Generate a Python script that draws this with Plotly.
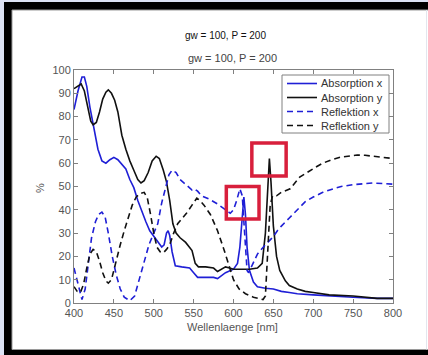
import plotly.graph_objects as go

# ---------------- data ----------------
abs_x_wl = [400, 405, 410, 413, 416, 420, 425, 430, 435, 440, 445, 450, 455, 460, 465, 470, 475, 480,
            485, 490, 495, 500, 505, 510, 513, 516, 518, 520, 523, 527, 535, 545, 550, 555, 565, 575,
            580, 590, 600, 605, 608, 611, 613, 615, 617, 620, 625, 630, 640, 650, 660, 670, 680, 700,
            720, 750, 780, 800]
abs_x_val = [83, 91, 97, 97, 93, 84, 75, 66, 61, 60, 61.5, 62.5, 61.5, 59.5, 57.5, 53, 49.5, 44,
             39, 35, 31, 28.5, 26, 24, 25, 30, 31, 29, 22, 16, 15.5, 15, 13, 11, 11, 11,
             10.5, 13, 14.5, 17, 24, 38, 45.5, 38, 24, 14, 9, 7, 6.3, 6, 5, 4.5, 4, 3.5,
             3, 2.5, 2, 2]

abs_y_wl = [400, 405, 409, 413, 417, 421, 424, 428, 432, 436, 440, 443, 447, 451, 455, 460, 465, 470,
            475, 480, 484, 488, 493, 498, 503, 507, 512, 516, 520, 524, 528, 533, 540, 548, 552, 556,
            565, 575, 580, 585, 590, 595, 600, 610, 620, 630, 636, 640, 643, 645, 647, 650, 654, 658,
            665, 670, 680, 690, 700, 720, 750, 780, 800]
abs_y_val = [92, 93, 94, 91, 84, 78, 76.5, 77.5, 82, 87.5, 90.5, 91.5, 90, 87, 82, 72, 66, 61,
             57, 53, 51.5, 52.5, 56, 61, 63, 62, 57, 52, 44, 34, 30, 28, 26, 22.5, 17, 15.5,
             15.5, 15, 13.5, 14.5, 15.5, 15, 14.5, 14.5, 14.5, 15, 17, 30, 50, 62, 52, 33, 20, 14,
             9.5, 7.5, 6, 5, 4.5, 3.5, 3, 2, 2]

ref_x_wl = [400, 403, 406, 410, 414, 418, 422, 427, 431, 435, 439, 443, 448, 453, 458, 463, 470, 476,
            482, 488, 494, 500, 505, 510, 515, 519, 523, 528, 533, 538, 543, 548, 551, 555, 560, 570,
            580, 590, 596, 600, 604, 608, 611, 613, 615, 617, 619, 622, 630, 640, 650, 655, 660, 670,
            680, 690, 700, 712, 725, 735, 750, 760, 775, 790, 800]
ref_x_val = [15, 11, 6, 1.5, 6, 18, 28, 35, 38, 39, 37, 30, 20, 12, 6, 2.5, 1, 3,
             10, 18, 25, 30, 34, 43, 50, 55, 57, 56, 53, 51.5, 50, 48.5, 49, 48, 46, 44.5,
             42.5, 40, 38.5, 40, 44, 49, 46, 35, 22, 14, 13, 15, 21, 25, 28.5, 31, 33, 36.5,
             40, 43.5, 45.5, 47.5, 49, 50, 50.8, 51.2, 51.5, 51.2, 51]

ref_y_wl = [400, 404, 408, 412, 416, 420, 424, 428, 432, 436, 440, 443, 447, 452, 458, 463, 468, 473,
            478, 483, 488, 492, 496, 500, 504, 508, 512, 516, 520, 525, 530, 535, 541, 548, 554, 558,
            563, 571, 580, 588, 595, 600, 607, 615, 625, 632, 637, 640, 642, 644, 646, 649, 654, 660,
            671, 683, 692, 704, 712, 723, 734, 745, 755, 765, 775, 787, 800]
ref_y_val = [7, 5, 4.5, 8, 15, 21, 23, 22, 18, 13, 9.5, 8.5, 10, 17, 25, 31, 37, 42,
             45.5, 47, 47.5, 45, 38, 30, 24, 22, 21.5, 23, 25, 30, 34, 36, 38.5, 42, 45, 44,
             42, 38, 31, 23, 15, 10, 6, 4, 2.5, 2, 1.5, 3, 15, 30, 42, 46, 46, 47.5,
             49, 54, 56, 58.5, 60, 61.5, 62.6, 63.2, 63.5, 63.4, 63, 62.6, 62]

series_names = ["Absorption x", "Absorption y", "Reflektion x", "Reflektion y"]
x_ticks = [400, 450, 500, 550, 600, 650, 700, 750, 800]
y_ticks = [0, 10, 20, 30, 40, 50, 60, 70, 80, 90, 100]
title_text = "gw = 100, P = 200"
x_label = "Wellenlaenge [nm]"
y_label = "%"
highlight_boxes = [(591, 632, 36, 50), (623, 666, 54.5, 68.7)]

# ---------------- figure ----------------
BLUE = "#1f1fd6"
BLACK = "#111111"
DASH = "6px,4px"
FONT = "Liberation Sans, Arial, sans-serif"
styles = [(BLUE, "solid"), (BLACK, "solid"), (BLUE, DASH), (BLACK, DASH)]
series = [(abs_x_wl, abs_x_val), (abs_y_wl, abs_y_val), (ref_x_wl, ref_x_val), (ref_y_wl, ref_y_val)]

fig = go.Figure()
for (xs, ys), name, (col, dash) in zip(series, series_names, styles):
    fig.add_trace(go.Scatter(x=xs, y=ys, name=name, mode="lines", showlegend=False,
                             line=dict(color=col, width=1.6, dash=dash)))

W, H = 428, 355
L, R, T, B = 74, 393, 70, 303
pw, ph = R - L, B - T


def px2x(px):
    return (px - L) / pw


def py2y(py):
    return (B - py) / ph


shapes = [
    dict(type="rect", xref="paper", yref="paper", layer="below",
         x0=px2x(4), x1=px2x(440), y0=py2y(370), y1=py2y(2),
         fillcolor="#000000", line=dict(width=0)),
    dict(type="rect", xref="paper", yref="paper", layer="below",
         x0=px2x(12), x1=px2x(440), y0=py2y(349.5), y1=py2y(10),
         fillcolor="#ffffff", line=dict(color="#9a9a9a", width=1)),
    dict(type="line", xref="paper", yref="paper", layer="below",
         x0=px2x(426.5), x1=px2x(426.5), y0=py2y(349.5), y1=py2y(10),
         line=dict(color="#e3e6ee", width=1)),
]
for (x0, x1, y0, y1) in highlight_boxes:
    shapes.append(dict(type="rect", xref="x", yref="y", x0=x0, x1=x1, y0=y0, y1=y1,
                       line=dict(color="#d81f3c", width=3.5), fillcolor="rgba(0,0,0,0)"))

# legend box (drawn manually to match compact MATLAB legend)
LEG_L, LEG_R, LEG_T, LEG_B = 282, 389, 75, 133
shapes.append(dict(type="rect", xref="paper", yref="paper",
                   x0=px2x(LEG_L), x1=px2x(LEG_R), y0=py2y(LEG_B), y1=py2y(LEG_T),
                   fillcolor="#ffffff", line=dict(color="#808080", width=1)))
entry_y = [83.5, 97.5, 111.5, 125.5]

annotations = [
    dict(text=title_text, xref="paper", yref="paper", x=px2x(225), y=py2y(36),
         showarrow=False, font=dict(family=FONT, size=10, color="#111111"),
         xanchor="center", yanchor="middle"),
    dict(text=title_text, xref="paper", yref="paper", x=px2x(232), y=py2y(58),
         showarrow=False, font=dict(family=FONT, size=11, color="#444444"),
         xanchor="center", yanchor="middle"),
    dict(text=x_label, xref="paper", yref="paper", x=px2x(232), y=py2y(327),
         showarrow=False, font=dict(family=FONT, size=11, color="#555555"),
         xanchor="center", yanchor="middle"),
    dict(text=y_label, xref="paper", yref="paper", x=px2x(40), y=py2y(188),
         showarrow=False, textangle=-90, font=dict(family=FONT, size=11, color="#555555"),
         xanchor="center", yanchor="middle"),
]
for name, (col, dash), ey in zip(series_names, styles, entry_y):
    shapes.append(dict(type="line", xref="paper", yref="paper",
                       x0=px2x(287), x1=px2x(317), y0=py2y(ey), y1=py2y(ey),
                       line=dict(color=col, width=1.6, dash=dash)))
    annotations.append(dict(text=name, xref="paper", yref="paper", x=px2x(319), y=py2y(ey),
                            showarrow=False, xanchor="left", yanchor="middle",
                            font=dict(family=FONT, size=11, color="#333333")))

axis_common = dict(showline=True, linecolor="#808080", linewidth=1, mirror="ticks",
                   ticks="inside", ticklen=4, tickcolor="#808080", showgrid=False,
                   zeroline=False, tickfont=dict(family=FONT, size=11, color="#555555"))

fig.update_layout(
    width=W, height=H,
    margin=dict(l=L, r=W - R, t=T, b=H - B, pad=0),
    paper_bgcolor="#dde3f5",
    plot_bgcolor="#ffffff",
    showlegend=False,
    xaxis=dict(range=[400, 800], tickvals=x_ticks, ticktext=[str(v) for v in x_ticks], **axis_common),
    yaxis=dict(range=[0, 100], tickvals=y_ticks, ticktext=[str(v) for v in y_ticks], **axis_common),
    shapes=shapes,
    annotations=annotations,
)

fig.write_html("out.html")
